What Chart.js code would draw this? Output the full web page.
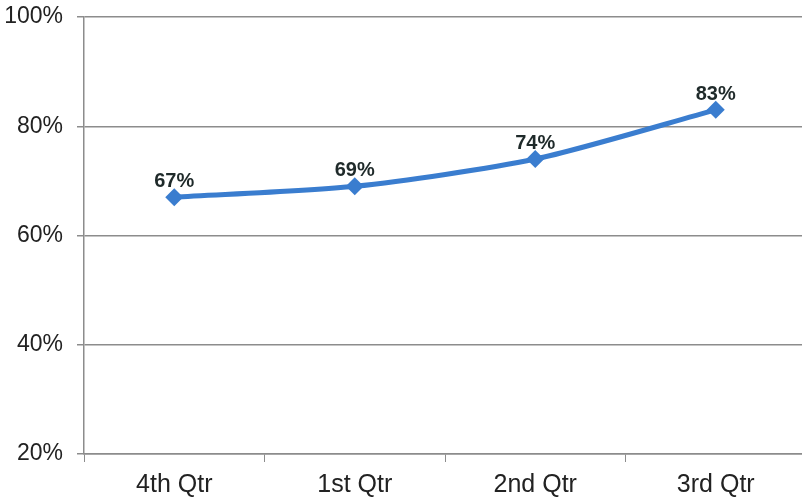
<!DOCTYPE html>
<html>
<head>
<meta charset="utf-8">
<script src="https://cdn.jsdelivr.net/npm/chart.js@4"></script>
<style>
    html, body { margin: 0; padding: 0; background: #fff; overflow: hidden; }
    #wrap { width: 815px; height: 501px; }
</style>
</head>
<body>
<div id="wrap"><canvas id="qtrChart"></canvas></div>
<script>
const quarters = ['4th Qtr', '1st Qtr', '2nd Qtr', '3rd Qtr'];
const rates = [67, 69, 74, 83];
const yTicks = [20, 40, 60, 80, 100];

const lineBlue = '#3a7dcf';
const gridGray = '#8c8c8c';

// draws the bold % labels above each point
const valueLabels = {
    id: 'valueLabels',
    afterDatasetsDraw(chart) {
        const ctx = chart.ctx;
        const meta = chart.getDatasetMeta(0);
        ctx.save();
        ctx.font = 'bold 20px "Liberation Sans", Arial, sans-serif';
        ctx.fillStyle = '#1f2a2a';
        ctx.textAlign = 'center';
        ctx.textBaseline = 'alphabetic';
        meta.data.forEach(function (pt, i) {
            ctx.fillText(rates[i] + '%', pt.x, pt.y - 10);
        });
        ctx.restore();
    }
};

const ctxQtr = document.getElementById('qtrChart').getContext('2d');
new Chart(ctxQtr, {
    type: 'line',
    data: {
        labels: quarters,
        datasets: [{
            data: rates,
            borderColor: lineBlue,
            backgroundColor: lineBlue,
            borderWidth: 5,
            tension: 0.25,
            pointStyle: 'rectRot',
            pointRadius: 9,
            pointHoverRadius: 9,
            pointBorderWidth: 0
        }]
    },
    options: {
        responsive: true,
        maintainAspectRatio: false,
        animation: false,
        layout: { padding: { top: 17, right: 0, bottom: 0, left: 0 } },
        plugins: {
            legend: { display: false },
            tooltip: { enabled: false }
        },
        scales: {
            x: {
                offset: true,
                grid: {
                    offset: true,
                    drawOnChartArea: false,
                    drawTicks: true,
                    tickLength: 8,
                    color: gridGray
                },
                border: { color: gridGray, width: 1.5 },
                ticks: {
                    color: '#222',
                    padding: 8,
                    font: { family: '"Liberation Sans", Arial, sans-serif', size: 25 }
                },
                afterFit(axis) {
                    axis.height = 47;
                    axis.paddingLeft = 0;
                    axis.paddingRight = 0;
                }
            },
            y: {
                min: 20,
                max: 100,
                afterBuildTicks(axis) {
                    axis.ticks = yTicks.map(v => ({ value: v }));
                },
                grid: {
                    color: gridGray,
                    lineWidth: 1.5,
                    tickLength: 7
                },
                border: { color: gridGray, width: 1.5 },
                ticks: {
                    color: '#222',
                    padding: 14,
                    font: { family: '"Liberation Sans", Arial, sans-serif', size: 23 },
                    callback: v => v + '%'
                },
                afterFit(axis) {
                    axis.width = 84;
                    axis.paddingTop = 0;
                    axis.paddingBottom = 0;
                }
            }
        }
    },
    plugins: [valueLabels]
});
</script>
</body>
</html>
